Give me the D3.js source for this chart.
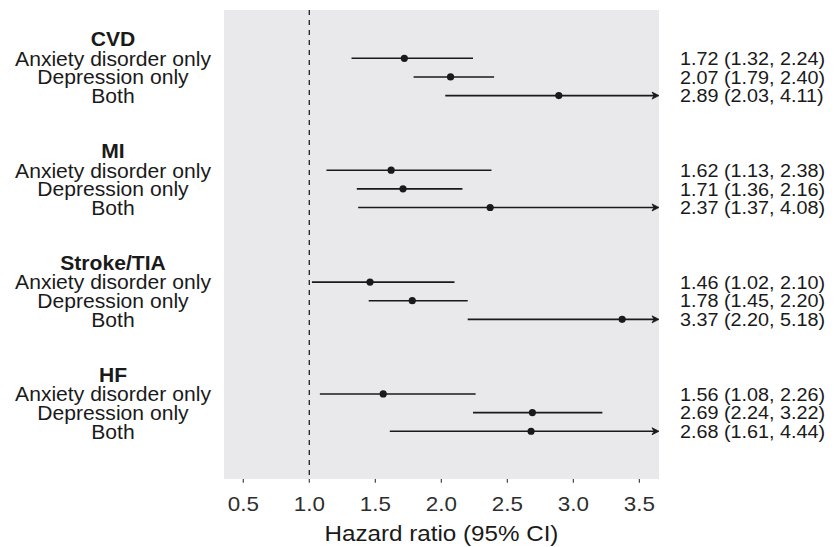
<!DOCTYPE html>
<html>
<head>
<meta charset="utf-8">
<script src="https://cdn.jsdelivr.net/npm/d3@7"></script>
<style>
  body { margin: 0; background: #fff; }
  svg { font-family: "Liberation Sans", Arial, sans-serif; }
</style>
</head>
<body>
<svg id="chart" width="837" height="547"></svg>
<script>
// outcomes and exposure groups
const outcomes = ['CVD', 'MI', 'Stroke/TIA', 'HF'];
const exposures = ['Anxiety disorder only', 'Depression only', 'Both'];

// hazard ratios with 95% CI, one row per outcome
const hr = [[1.72, 2.07, 2.89], [1.62, 1.71, 2.37], [1.46, 1.78, 3.37], [1.56, 2.69, 2.68]];
const lower = [[1.32, 1.79, 2.03], [1.13, 1.36, 1.37], [1.02, 1.45, 2.20], [1.08, 2.24, 1.61]];
const upper = [[2.24, 2.40, 4.11], [2.38, 2.16, 4.08], [2.10, 2.20, 5.18], [2.26, 3.22, 4.44]];

const xTicks = [0.5, 1.0, 1.5, 2.0, 2.5, 3.0, 3.5];

const svg = d3.select('#chart');

// panel bounds
const panel = { left: 224, right: 659, top: 10, bottom: 479 };

const x = d3.scaleLinear().domain([0.354, 3.649]).range([panel.left, panel.right]);
// every outcome takes 6 row slots: header, 3 estimates, 2 blanks
const y = d3.scaleLinear().domain([-1.59, 23.56]).range([panel.top, panel.bottom]);

// flatten into rows
const rows = [];
outcomes.forEach((o, i) => {
  exposures.forEach((e, j) => {
    rows.push({ outcome: o, label: e, slot: i * 6 + j + 1, hr: hr[i][j], lo: lower[i][j], hi: upper[i][j] });
  });
});

// the original text is a bit wide, so stretch it horizontally
function placeText(sel, px, py, size, sx) {
  return sel
    .attr('transform', (d, i) => `translate(${px(d, i)},${py(d, i)}) scale(${sx},1)`)
    .attr('font-size', size)
    .attr('fill', '#1a1a1a');
}

svg.append('rect')
  .attr('x', panel.left)
  .attr('y', panel.top)
  .attr('width', panel.right - panel.left)
  .attr('height', panel.bottom - panel.top)
  .attr('fill', '#e9e9eb');

// reference line at HR = 1
svg.append('line')
  .attr('x1', x(1)).attr('x2', x(1))
  .attr('y1', panel.top).attr('y2', panel.bottom)
  .attr('stroke', '#222')
  .attr('stroke-width', 1.3)
  .attr('stroke-dasharray', '5,5');

const xMax = x.domain()[1];

// CI lines
svg.selectAll('.ci')
  .data(rows)
  .enter()
  .append('line')
  .attr('class', 'ci')
  .attr('x1', d => x(d.lo))
  .attr('x2', d => x(Math.min(d.hi, xMax)) - (d.hi > xMax ? 3 : 0))
  .attr('y1', d => y(d.slot))
  .attr('y2', d => y(d.slot))
  .attr('stroke', '#1a1a1a')
  .attr('stroke-width', 1.6);

// arrows for clipped upper limits
svg.selectAll('.arrow')
  .data(rows.filter(d => d.hi > xMax))
  .enter()
  .append('path')
  .attr('class', 'arrow')
  .attr('d', d => `M${x(xMax) - 7},${y(d.slot) - 3.5} L${x(xMax)},${y(d.slot)} L${x(xMax) - 7},${y(d.slot) + 3.5} L${x(xMax) - 5},${y(d.slot)} Z`)
  .attr('fill', '#1a1a1a')
  .attr('stroke', '#1a1a1a')
  .attr('stroke-width', 0.8)
  .attr('stroke-linejoin', 'round');

// point estimates
svg.selectAll('.pt')
  .data(rows)
  .enter()
  .append('circle')
  .attr('class', 'pt')
  .attr('cx', d => x(d.hr))
  .attr('cy', d => y(d.slot))
  .attr('r', 3.6)
  .attr('fill', '#1a1a1a');

// left labels
const labelX = 113;
svg.selectAll('.hdr')
  .data(outcomes)
  .enter()
  .append('text')
  .attr('class', 'hdr')
  .attr('dy', '0.36em')
  .attr('text-anchor', 'middle')
  .attr('font-weight', 'bold')
  .call(placeText, () => labelX, (d, i) => y(i * 6) - 1, 20.5, 1.03)
  .text(d => d);

svg.selectAll('.lbl')
  .data(rows)
  .enter()
  .append('text')
  .attr('class', 'lbl')
  .attr('dy', '0.36em')
  .attr('text-anchor', 'middle')
  .call(placeText, () => labelX, d => y(d.slot), 20.5, 1.03)
  .text(d => d.label);

// right estimates text
svg.selectAll('.est')
  .data(rows)
  .enter()
  .append('text')
  .attr('class', 'est')
  .attr('dy', '0.36em')
  .call(placeText, () => 680, d => y(d.slot), 18.5, 1.07)
  .text(d => `${d.hr.toFixed(2)} (${d.lo.toFixed(2)}, ${d.hi.toFixed(2)})`);

// x axis: ticks only
svg.selectAll('.tick')
  .data(xTicks)
  .enter()
  .append('line')
  .attr('class', 'tick')
  .attr('x1', d => x(d)).attr('x2', d => x(d))
  .attr('y1', panel.bottom).attr('y2', panel.bottom + 3.7)
  .attr('stroke', '#333')
  .attr('stroke-width', 1.1);

svg.selectAll('.tick-label')
  .data(xTicks)
  .enter()
  .append('text')
  .attr('class', 'tick-label')
  .attr('text-anchor', 'middle')
  .call(placeText, d => x(d), () => 510.5, 20, 1.12)
  .attr('fill', '#2e2e2e')
  .text(d3.format('.1f'));

svg.append('text')
  .datum('Hazard ratio (95% CI)')
  .attr('text-anchor', 'middle')
  .call(placeText, () => (panel.left + panel.right) / 2, () => 540.5, 22, 1.1)
  .text(d => d);
</script>
</body>
</html>
